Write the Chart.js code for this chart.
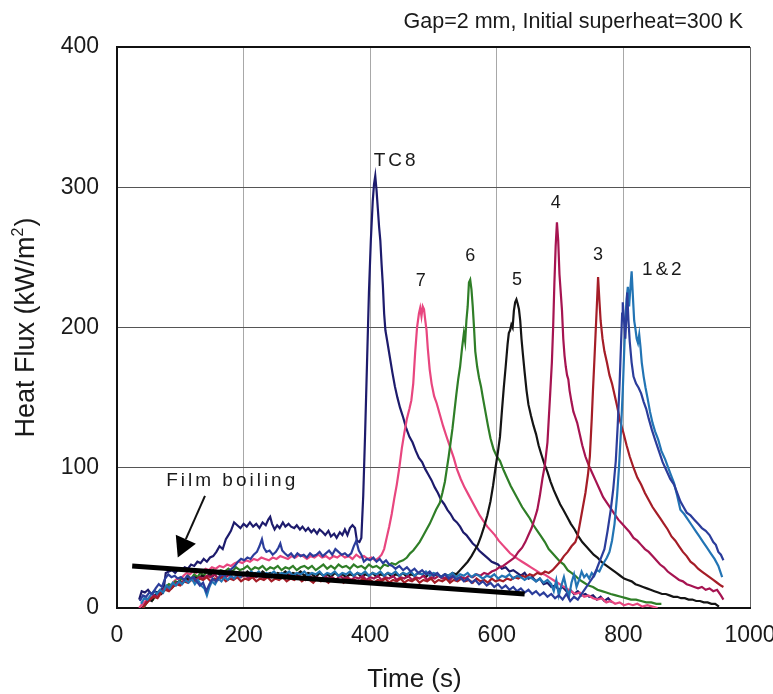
<!DOCTYPE html>
<html><head><meta charset="utf-8">
<script src="https://cdn.jsdelivr.net/npm/chart.js@4/dist/chart.umd.min.js"></script>
<style>html,body{margin:0;padding:0;background:#fff;}canvas{display:block;}</style>
</head><body>
<canvas id="c" width="773" height="694"></canvas>
<script>
const FONT = '"Liberation Sans", Arial, Helvetica, sans-serif';
const chartTitle = 'Gap=2 mm, Initial superheat=300 K';
const xAxisTitle = 'Time (s)';
const yAxisTitleParts = ['Heat Flux (kW/m', '2', ')'];
const xRange = [0, 1000];
const yRange = [0, 400];
const xStep = 200;
const yStep = 100;

// Time (s), heat flux (kW/m2) pairs
const filmBoilingLine = [[24,30],[644,10]];

const tc8 = [[35,6],[39,12],[44,11],[49,13],[54,10],[59,12],[64,11],[69,13],[74,14],[77,25],[82,26],[87,27],[92,25],[97,28],[102,27],[107,29],[112,28],[117,31],[122,30],[127,33],[132,32],[137,35],[142,33],[147,36],[152,37],[157,40],[162,44],[167,42],[172,49],[176,52],[180,55],[185,61],[190,59],[195,57],[200,60],[205,58],[210,61],[215,58],[220,60],[225,57],[230,61],[235,59],[239,63],[242,65],[245,60],[249,56],[253,59],[257,57],[262,61],[266,58],[271,60],[275,58],[280,57],[284,59],[289,56],[293,58],[298,55],[302,57],[307,54],[311,56],[316,53],[320,56],[325,54],[329,52],[334,55],[338,51],[343,53],[347,50],[352,54],[356,52],[360,56],[364,52],[368,57],[372,59],[376,57],[379,48],[383,47],[386,50],[389,80],[392,125],[395,175],[398,225],[401,262],[404,290],[406,302],[408,308],[410,298],[412,285],[414,272],[416,262],[418,245],[420,230],[422,210],[424,198],[427,190],[431,179],[435,168],[439,158],[443,150],[447,143],[452,136],[457,128],[462,122],[467,118],[472,112],[477,107],[482,104],[487,99],[492,95],[497,91],[502,86],[507,82],[512,77],[517,74],[522,70],[527,67],[532,63],[537,61],[542,58],[547,54],[552,52],[557,49],[562,46],[567,44],[572,41],[577,39],[582,37],[587,35],[592,33],[597,32],[602,31],[608,28],[614,29],[620,26],[626,27],[632,25],[638,23],[644,25],[650,21],[656,22],[662,19],[668,21],[674,17],[680,18],[686,15],[692,16],[698,13],[704,15],[710,12],[716,13],[722,10],[728,12],[734,9],[740,10],[746,8],[752,9],[758,6],[764,8],[770,5],[776,7],[782,4]];

const tc7 = [[35,0],[40,3],[45,5],[50,7],[55,6],[60,9],[65,11],[70,10],[75,14],[80,16],[85,15],[90,19],[95,21],[100,20],[105,23],[110,25],[115,24],[120,26],[125,25],[130,27],[135,26],[140,28],[145,27],[150,29],[156,28],[162,30],[168,29],[174,31],[180,30],[186,32],[192,33],[198,32],[204,34],[210,33],[216,35],[222,34],[228,36],[234,35],[240,34],[246,36],[252,35],[258,37],[264,36],[270,35],[276,37],[282,36],[288,38],[294,37],[300,35],[306,37],[312,36],[318,38],[324,36],[330,37],[336,35],[342,37],[348,36],[354,38],[360,36],[366,37],[372,35],[378,38],[384,36],[390,37],[396,35],[402,36],[408,34],[414,36],[418,38],[422,42],[426,50],[430,58],[434,67],[438,78],[442,88],[446,100],[450,114],[454,125],[458,135],[462,142],[465,148],[468,160],[471,182],[474,200],[477,210],[479,214],[481,208],[483,215],[485,213],[487,205],[489,198],[491,185],[494,170],[497,160],[501,151],[505,146],[510,138],[515,130],[520,123],[526,115],[532,107],[537,99],[543,92],[549,86],[555,81],[561,76],[567,71],[573,66],[579,62],[585,58],[591,55],[597,52],[603,48],[609,45],[615,42],[621,39],[627,37],[633,35],[640,33],[647,31],[654,29],[661,27],[668,25],[675,24],[682,22],[689,20],[696,18],[703,16],[710,14],[717,12],[724,10],[731,11],[738,8],[745,9],[752,7],[759,6],[766,7],[773,4],[780,5],[787,3],[794,4],[801,2],[808,3],[815,2],[822,3],[830,1],[838,2],[846,1],[854,0]];

const tc6 = [[42,0],[47,4],[52,7],[57,6],[62,10],[67,12],[72,11],[77,15],[82,17],[87,16],[92,19],[97,18],[102,21],[107,20],[112,23],[117,21],[122,24],[127,22],[132,25],[137,23],[142,26],[147,24],[152,27],[158,25],[164,27],[170,26],[176,28],[182,26],[188,29],[194,27],[200,28],[206,30],[212,27],[218,29],[224,28],[230,30],[236,27],[242,29],[248,28],[254,30],[260,27],[266,29],[272,28],[278,30],[284,27],[290,29],[296,30],[302,28],[308,30],[314,27],[320,29],[326,31],[332,28],[338,30],[344,28],[350,31],[356,29],[362,30],[368,28],[374,31],[380,29],[386,30],[392,28],[398,31],[404,29],[410,30],[416,28],[422,31],[428,30],[434,32],[440,31],[446,33],[452,34],[458,36],[463,39],[468,41],[473,44],[478,47],[483,51],[489,56],[494,60],[499,65],[504,70],[510,75],[514,82],[518,90],[521,99],[524,108],[527,118],[530,128],[533,140],[536,152],[539,163],[542,172],[545,185],[548,196],[550,190],[552,205],[554,215],[556,232],[558,234],[560,227],[562,215],[564,200],[566,183],[569,172],[572,164],[575,158],[578,150],[582,140],[586,130],[590,121],[595,113],[600,108],[605,105],[611,98],[617,92],[622,87],[628,82],[634,77],[640,72],[646,68],[652,64],[658,59],[664,55],[670,51],[676,47],[682,42],[688,39],[694,36],[700,33],[706,31],[712,27],[718,25],[724,23],[731,20],[738,18],[745,16],[752,15],[759,13],[766,12],[773,11],[780,10],[788,9],[796,8],[804,7],[812,6],[820,6],[828,5],[836,4],[844,4],[852,3],[860,3]];

const tc5 = [[40,0],[45,3],[50,6],[55,5],[60,9],[65,11],[70,10],[75,13],[80,15],[86,14],[92,17],[98,19],[104,18],[110,21],[116,20],[122,22],[128,21],[134,23],[140,22],[146,24],[152,23],[158,25],[164,23],[170,25],[176,24],[182,26],[188,24],[194,25],[200,23],[206,26],[212,24],[218,25],[224,23],[230,26],[236,24],[242,25],[248,23],[254,25],[260,24],[266,26],[272,23],[278,25],[284,24],[290,26],[296,23],[302,25],[308,24],[314,22],[320,25],[326,23],[332,24],[338,22],[344,25],[350,23],[356,24],[362,22],[368,24],[374,23],[380,25],[386,22],[392,24],[398,23],[404,25],[410,22],[416,24],[422,23],[428,25],[434,22],[440,24],[446,23],[452,25],[458,22],[464,24],[470,23],[476,25],[482,24],[488,22],[494,25],[500,23],[506,24],[512,22],[518,24],[524,23],[530,25],[536,24],[542,27],[548,30],[554,33],[560,37],[565,41],[570,45],[575,51],[580,58],[585,66],[590,76],[594,87],[598,100],[602,112],[605,122],[608,140],[611,157],[614,172],[617,188],[619,196],[621,198],[623,202],[625,200],[627,212],[629,218],[631,220],[633,217],[635,213],[637,205],[639,192],[641,182],[644,168],[647,155],[650,145],[654,137],[658,130],[662,124],[666,116],[670,110],[675,103],[680,97],[685,90],[690,84],[695,79],[700,74],[705,70],[711,65],[717,60],[723,56],[729,51],[735,47],[741,44],[747,41],[753,38],[759,36],[765,33],[771,31],[777,29],[783,27],[789,25],[795,23],[801,21],[807,20],[813,19],[819,17],[825,16],[831,15],[837,14],[843,13],[849,12],[855,11],[861,10],[867,10],[873,9],[879,8],[885,8],[891,7],[897,7],[903,6],[909,6],[915,5],[921,5],[927,4],[933,4],[939,3],[945,3],[951,1]];

const tc4 = [[40,0],[46,4],[52,6],[58,9],[64,8],[70,12],[76,14],[82,13],[88,16],[94,18],[100,17],[106,20],[112,19],[118,21],[124,20],[130,22],[136,21],[142,23],[148,22],[154,24],[160,21],[166,23],[172,22],[178,24],[184,21],[190,23],[196,22],[202,24],[208,21],[214,23],[220,22],[226,24],[232,21],[238,23],[244,22],[250,24],[256,21],[262,23],[268,22],[274,24],[280,21],[286,23],[292,22],[298,20],[304,23],[310,21],[316,22],[322,20],[328,23],[334,21],[340,22],[346,20],[352,23],[358,21],[364,22],[370,20],[376,22],[382,21],[388,23],[394,20],[400,22],[406,21],[412,23],[418,20],[424,22],[430,21],[436,23],[442,20],[448,22],[454,21],[460,23],[466,20],[472,22],[478,21],[484,23],[490,20],[496,22],[502,21],[508,23],[514,21],[520,22],[526,20],[532,23],[538,21],[544,22],[550,21],[556,23],[562,22],[568,24],[574,23],[580,25],[586,24],[592,26],[598,27],[604,29],[610,30],[616,32],[622,34],[628,36],[634,40],[640,43],[645,47],[650,52],[655,57],[660,64],[664,70],[668,80],[672,92],[676,102],[680,118],[684,150],[687,175],[689,200],[691,232],[693,258],[695,275],[697,262],[699,238],[701,225],[703,212],[705,192],[707,180],[709,172],[711,166],[713,163],[715,155],[718,147],[721,140],[724,136],[727,132],[731,124],[735,116],[740,108],[745,102],[750,97],[756,91],[762,85],[768,79],[774,75],[780,71],[786,67],[792,63],[798,60],[804,57],[810,54],[816,50],[822,48],[828,45],[834,42],[840,40],[846,37],[852,34],[858,31],[864,29],[870,26],[876,24],[882,22],[888,20],[894,19],[900,17],[906,16],[912,15],[918,14],[924,15],[930,13],[936,14],[942,12],[948,13],[954,9],[958,6]];

const tc3 = [[40,0],[46,3],[52,6],[58,8],[64,7],[70,11],[76,13],[82,12],[88,15],[94,17],[100,16],[106,19],[112,18],[118,20],[124,19],[130,21],[136,20],[142,22],[148,19],[154,21],[160,20],[166,22],[172,19],[178,21],[184,20],[190,22],[196,19],[202,21],[208,20],[214,22],[220,19],[226,21],[232,20],[238,22],[244,19],[250,21],[256,20],[262,22],[268,19],[274,21],[280,20],[286,22],[292,19],[298,21],[304,20],[310,18],[316,21],[322,19],[328,20],[334,18],[340,21],[346,19],[352,20],[358,18],[364,21],[370,19],[376,20],[382,18],[388,21],[394,19],[400,20],[406,18],[412,20],[418,19],[424,21],[430,18],[436,20],[442,19],[448,21],[454,18],[460,20],[466,19],[472,21],[478,18],[484,20],[490,19],[496,21],[502,18],[508,20],[514,19],[520,21],[526,18],[532,20],[538,19],[544,21],[550,19],[556,20],[562,18],[568,21],[574,19],[580,20],[586,18],[592,21],[598,19],[604,20],[610,19],[616,21],[622,20],[628,22],[634,21],[640,23],[646,22],[652,24],[658,23],[664,25],[670,24],[676,26],[682,25],[688,27],[694,30],[700,33],[706,37],[712,40],[718,44],[724,47],[728,52],[732,62],[736,72],[740,82],[744,95],[747,108],[750,135],[752,156],[754,175],[756,195],[758,215],[760,236],[762,220],[764,205],[767,192],[770,183],[774,175],[778,166],[782,160],[786,152],[790,144],[795,133],[800,125],[805,116],[810,108],[816,100],[822,93],[828,88],[834,82],[840,77],[846,72],[852,68],[858,64],[864,60],[870,56],[876,51],[882,48],[888,44],[894,40],[900,37],[906,33],[912,31],[918,28],[924,26],[930,24],[936,22],[942,20],[948,18],[954,16],[958,15]];

const tc1 = [[36,5],[41,9],[46,8],[51,11],[56,10],[61,14],[66,17],[71,15],[76,21],[81,24],[86,22],[91,23],[96,21],[101,22],[106,20],[111,23],[116,21],[121,22],[126,19],[131,16],[136,18],[141,12],[146,17],[151,21],[156,19],[161,22],[166,24],[171,23],[176,26],[181,28],[186,30],[191,33],[196,35],[201,34],[206,36],[211,35],[216,38],[221,40],[225,44],[229,49],[232,43],[236,40],[241,41],[246,38],[251,40],[255,43],[258,46],[261,41],[265,39],[270,37],[275,39],[280,36],[285,39],[290,37],[295,38],[300,36],[305,39],[310,37],[315,38],[320,40],[325,37],[330,39],[335,41],[340,38],[345,42],[350,40],[355,38],[360,39],[365,37],[370,39],[374,44],[378,48],[382,41],[386,38],[390,33],[395,35],[400,34],[405,36],[410,33],[415,35],[420,32],[425,34],[430,31],[435,30],[440,28],[446,30],[452,27],[458,29],[464,26],[470,28],[476,25],[482,27],[488,24],[494,26],[500,23],[506,25],[512,22],[518,24],[524,21],[530,23],[536,20],[542,22],[548,19],[554,21],[560,18],[566,20],[572,17],[578,19],[584,16],[590,18],[596,15],[602,17],[608,14],[614,16],[620,13],[626,15],[632,12],[638,14],[644,11],[650,13],[656,10],[662,12],[668,9],[674,11],[680,8],[686,10],[692,7],[698,9],[704,6],[710,10],[716,5],[722,8],[728,6],[734,10],[740,14],[746,18],[752,22],[758,28],[764,35],[770,42],[775,55],[780,70],[784,85],[788,105],[791,130],[794,160],[796,185],[798,210],[799,218],[801,205],[803,192],[805,210],[806,225],[808,205],[810,190],[813,175],[816,165],[820,160],[824,157],[828,153],[832,147],[836,142],[840,135],[845,127],[850,120],[856,112],[862,104],[868,98],[874,92],[880,88],[885,82],[890,76],[895,72],[900,68],[906,66],[912,63],[918,60],[924,57],[930,55],[936,52],[942,47],[946,45],[950,40],[954,38],[958,34]];

const tc2 = [[38,3],[43,7],[48,6],[53,9],[58,12],[63,10],[68,13],[73,11],[78,16],[83,14],[88,18],[93,16],[98,19],[103,17],[108,20],[113,18],[118,21],[123,17],[128,20],[133,16],[138,14],[142,9],[146,15],[150,19],[155,17],[160,21],[165,19],[170,22],[175,20],[180,23],[185,21],[190,24],[195,22],[200,25],[206,23],[212,26],[218,24],[224,26],[230,23],[236,25],[242,24],[248,26],[254,23],[260,25],[266,24],[272,26],[278,23],[284,25],[290,24],[296,26],[302,23],[308,25],[314,24],[320,26],[326,23],[332,25],[338,24],[344,26],[350,23],[356,25],[362,24],[368,26],[374,23],[380,25],[386,24],[392,26],[398,23],[404,25],[410,24],[416,26],[422,23],[428,25],[434,24],[440,26],[446,23],[452,25],[458,24],[464,26],[470,23],[476,25],[482,24],[488,26],[494,23],[500,25],[506,24],[512,22],[518,24],[524,23],[530,25],[536,22],[542,24],[548,23],[554,25],[560,22],[566,24],[572,23],[578,21],[584,23],[590,22],[596,24],[602,21],[608,23],[614,22],[620,24],[626,21],[632,23],[638,22],[644,20],[650,22],[656,21],[662,19],[668,21],[674,18],[680,20],[686,17],[690,12],[694,20],[698,9],[702,16],[706,22],[710,14],[714,8],[718,18],[722,24],[726,15],[730,20],[734,26],[738,22],[742,24],[746,21],[750,25],[754,23],[758,27],[762,26],[766,30],[770,33],[774,36],[778,40],[782,48],[786,60],[790,80],[793,100],[796,125],[799,155],[801,180],[803,203],[805,220],[807,229],[809,215],[811,228],[813,240],[815,222],[817,205],[819,199],[821,192],[823,189],[825,195],[827,186],[829,175],[832,165],[835,157],[838,150],[842,140],[846,132],[850,126],[855,120],[860,112],[866,106],[870,101],[875,95],[880,89],[885,80],[890,70],[896,67],[902,63],[908,59],[914,55],[920,51],[926,47],[932,43],[938,39],[944,35],[950,30],[956,22]];

const seriesNames = ['TC1','TC2','TC3','TC4','TC5','TC6','TC7','TC8'];
const seriesData = [tc1, tc2, tc3, tc4, tc5, tc6, tc7, tc8];
const seriesColors = ['#2b3d9b','#2274b4','#a51d27','#a61451','#141414','#2f7e27','#e8467f','#1d1b6c'];

// In-plot labels: [text, time, flux]
const curveLabels = [['TC8',441,319],['7',480,233],['6',558,251],['5',632,234],['4',693,289],['3',760,252],['1&2',863,241]];
const filmLabel = ['Film boiling',182,91];
const arrowFrom = [139,80];
const arrowTo = [96,36];

const toXY = arr => arr.map(p => ({x:p[0], y:p[1]}));

const datasets = [{
  label:'Film boiling', data: toXY(filmBoilingLine), borderColor:'#000', borderWidth:5, pointRadius:0, borderCapStyle:'butt'
}];
seriesData.forEach((d,i) => {
  datasets.push({label: seriesNames[i], data: toXY(d), borderColor: seriesColors[i], borderWidth: 2.2, pointRadius:0});
});

const annot = {
  id:'annot',
  afterDatasetsDraw(chart){
    const ctx = chart.ctx, xs = chart.scales.x, ys = chart.scales.y;
    ctx.save();
    ctx.fillStyle = '#1a1a1a';
    ctx.textAlign = 'center';
    ctx.textBaseline = 'middle';
    curveLabels.forEach(l => {
      const multi = l[0].length > 1;
      ctx.font = (multi ? 19 : 18) + 'px ' + FONT;
      ctx.letterSpacing = multi ? '3px' : '0px';
      ctx.fillText(l[0], xs.getPixelForValue(l[1]), ys.getPixelForValue(l[2]));
    });
    ctx.font = '19px ' + FONT;
    ctx.letterSpacing = '3px';
    ctx.fillText(filmLabel[0], xs.getPixelForValue(filmLabel[1]), ys.getPixelForValue(filmLabel[2]));
    ctx.letterSpacing = '0px';
    // arrow
    const x1 = xs.getPixelForValue(arrowFrom[0]), y1 = ys.getPixelForValue(arrowFrom[1]);
    const x2 = xs.getPixelForValue(arrowTo[0]), y2 = ys.getPixelForValue(arrowTo[1]);
    const ang = Math.atan2(y2-y1, x2-x1);
    const hl = 20, hw = 11;
    const bx = x2 - hl*Math.cos(ang), by = y2 - hl*Math.sin(ang);
    ctx.strokeStyle = '#111'; ctx.lineWidth = 2;
    ctx.beginPath(); ctx.moveTo(x1,y1); ctx.lineTo(bx,by); ctx.stroke();
    ctx.fillStyle = '#000';
    ctx.beginPath();
    ctx.moveTo(x2,y2);
    ctx.lineTo(bx + hw*Math.sin(ang), by - hw*Math.cos(ang));
    ctx.lineTo(bx - hw*Math.sin(ang), by + hw*Math.cos(ang));
    ctx.closePath(); ctx.fill();
    // chart title
    ctx.fillStyle = '#1a1a1a';
    ctx.font = '21.5px ' + FONT;
    ctx.textAlign = 'right';
    ctx.textBaseline = 'alphabetic';
    ctx.fillText(chartTitle, chart.chartArea.right - 7, 28);
    // x axis title
    ctx.font = '26px ' + FONT;
    ctx.textAlign = 'center';
    ctx.fillText(xAxisTitle, (chart.chartArea.left + chart.chartArea.right)/2 - 19, 687);
    // y axis title with superscript
    ctx.translate(34, 328);
    ctx.rotate(-Math.PI/2);
    ctx.font = '27px ' + FONT;
    const w0 = ctx.measureText(yAxisTitleParts[0]).width;
    ctx.font = '16px ' + FONT;
    const w1 = ctx.measureText(yAxisTitleParts[1]).width;
    ctx.font = '27px ' + FONT;
    const w2 = ctx.measureText(yAxisTitleParts[2]).width;
    let sx = -(w0 + w1 + w2)/2;
    ctx.textAlign = 'left';
    ctx.fillText(yAxisTitleParts[0], sx, 0);
    ctx.font = '16px ' + FONT;
    ctx.fillText(yAxisTitleParts[1], sx + w0, -11);
    ctx.font = '27px ' + FONT;
    ctx.fillText(yAxisTitleParts[2], sx + w0 + w1 + 1, 0);
    ctx.restore();
  }
};

new Chart(document.getElementById('c'), {
  type:'line',
  data:{datasets},
  options:{
    responsive:false,
    animation:false,
    layout:{padding:{top:47, right:23, left:0, bottom:0}},
    plugins:{legend:{display:false}, tooltip:{enabled:false}, title:{display:false}},
    elements:{line:{tension:0}, point:{radius:0}},
    scales:{
      x:{
        type:'linear', min:xRange[0], max:xRange[1],
        ticks:{stepSize:xStep, color:'#1a1a1a', font:{size:23, family:FONT}, padding:14, maxRotation:0, callback: v => String(v)},
        grid:{drawTicks:false, lineWidth:1, color: c => c.tick && c.tick.value === xRange[1] ? '#666' : '#a8a8a8'},
        border:{color:'#111', width:2},
        afterFit: s => { s.height = 86; s.paddingLeft = 0; s.paddingRight = 0; }
      },
      y:{
        min:yRange[0], max:yRange[1],
        ticks:{stepSize:yStep, color:'#1a1a1a', font:{size:23, family:FONT}, padding:18, callback: v => String(v)},
        grid:{drawTicks:false, lineWidth: c => c.tick && c.tick.value === yRange[1] ? 2 : 1, color: c => c.tick && c.tick.value === yRange[1] ? '#111' : '#555'},
        border:{color:'#111', width:2},
        afterFit: s => { s.width = 117; s.paddingTop = 0; s.paddingBottom = 0; }
      }
    }
  },
  plugins:[annot]
});
</script>
</body></html>
